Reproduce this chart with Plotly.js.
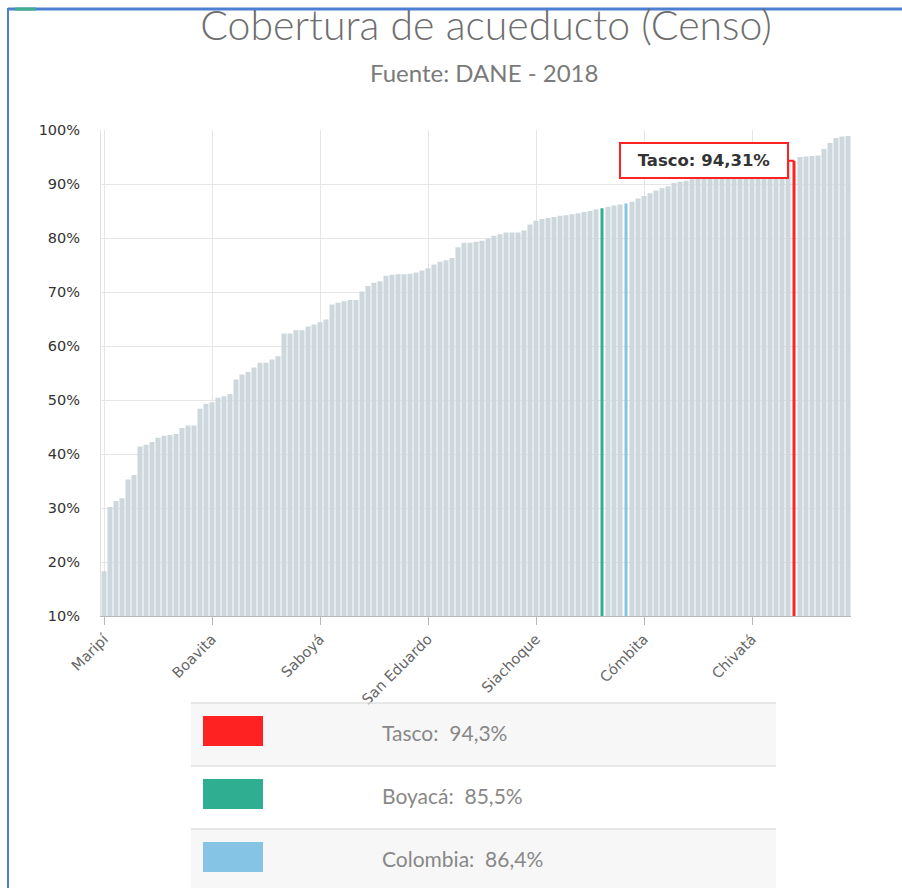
<!DOCTYPE html>
<html>
<head>
<meta charset="utf-8">
<script src="https://cdn.plot.ly/plotly-3.0.1.min.js"></script>
<style>html,body{margin:0;padding:0;background:#fff;}#chart{width:902px;height:888px;}</style>
</head>
<body>
<div id="chart"></div>
<script>
// Cobertura de acueducto por municipio (%), ordered ascending
const coverage = [
  18.3, 30.2, 31.3, 31.8, 35.3, 36.1, 41.4, 41.7, 42.2, 43.0,
  43.4, 43.5, 43.7, 44.8, 45.3, 45.3, 48.4, 49.3, 49.6, 50.4,
  50.7, 51.1, 53.8, 54.7, 55.2, 56.0, 56.9, 56.9, 57.5, 58.1,
  62.3, 62.3, 62.9, 62.9, 63.6, 64.0, 64.4, 64.9, 67.7, 68.0,
  68.3, 68.5, 68.5, 70.1, 71.1, 71.7, 72.0, 73.0, 73.2, 73.3,
  73.3, 73.4, 73.6, 74.0, 74.4, 75.1, 75.6, 75.9, 76.3, 78.3,
  79.1, 79.1, 79.3, 79.5, 79.9, 80.4, 80.7, 81.0, 81.0, 81.0,
  81.4, 82.5, 83.2, 83.5, 83.7, 83.9, 84.1, 84.2, 84.4, 84.6,
  84.8, 85.0, 85.3, 85.5, 85.8, 86.0, 86.2, 86.4, 86.7, 87.3,
  87.8, 88.3, 88.8, 89.2, 89.6, 90.2, 90.4, 90.6, 90.9, 91.0,
  91.3, 91.5, 91.6, 91.9, 92.1, 92.2, 92.5, 92.7, 92.9, 93.1,
  93.4, 93.5, 93.8, 94.0, 94.2, 94.31, 95.0, 95.1, 95.2, 95.3,
  96.5, 97.6, 98.5, 98.8, 98.9
];

// x-axis tick labels (category index -> name)
const tickIndex  = [0, 18, 36, 54, 72, 90, 108];
const tickLabels = ['Maripí', 'Boavita', 'Saboyá', 'San Eduardo', 'Siachoque', 'Cómbita', 'Chivatá'];

// y-axis ticks
const yTicks = [10, 20, 30, 40, 50, 60, 70, 80, 90, 100];
const yTickLabels = yTicks.map(v => v + '%');

// highlighted entries
const highlightNames  = ['Tasco', 'Boyacá', 'Colombia'];
const highlightIndex  = [115, 83, 87];
const highlightColors = ['#ff2222', '#2fae92', '#86c4e6'];

const baseColor = '#cdd7dc';

const xs = coverage.map((_, i) => i);
const colors = coverage.map(() => baseColor);
const widths = coverage.map(() => 0.84);
highlightIndex.forEach((idx, k) => { colors[idx] = highlightColors[k]; widths[idx] = 0.5; });

// pixel -> paper helpers (plot area: x 101..851, y 130..616)
const L = 101, R = 851, T = 130, B = 616;
const px = p => (p - L) / (R - L);
const py = p => (B - p) / (B - T);

const fmt = (v, d) => v.toFixed(d).replace('.', ',');

const shapes = [];
const annotations = [];

// framing lines of the original page container
shapes.push({type:'line', xref:'paper', yref:'paper', x0:px(8), x1:px(902), y0:py(9), y1:py(9), line:{color:'#4a7fd2', width:3}});
shapes.push({type:'line', xref:'paper', yref:'paper', x0:px(15), x1:px(36), y0:py(9), y1:py(9), line:{color:'#3fae8e', width:3}});
shapes.push({type:'line', xref:'paper', yref:'paper', x0:px(8), x1:px(8), y0:py(8), y1:py(888), line:{color:'#4a7fd2', width:2}});

// custom legend table
const rowTops = [703, 766, 829];
const rowH = 63;
rowTops.forEach((t, k) => {
  const bottom = Math.min(t + rowH, 888);
  shapes.push({type:'rect', xref:'paper', yref:'paper', x0:px(191), x1:px(776), y0:py(bottom), y1:py(t),
    fillcolor: (k % 2 === 0) ? '#f7f7f7' : '#ffffff', line:{width:0}, layer:'below'});
  shapes.push({type:'line', xref:'paper', yref:'paper', x0:px(191), x1:px(776), y0:py(t), y1:py(t),
    line:{color:'#e0e0e0', width:1.5}});
  shapes.push({type:'rect', xref:'paper', yref:'paper', x0:px(203), x1:px(263), y0:py(t + 43), y1:py(t + 13),
    fillcolor: highlightColors[k], line:{width:0}});
  const v = coverage[highlightIndex[k]];
  annotations.push({xref:'paper', yref:'paper', x:px(380), y:py(t + 29), xanchor:'left', yanchor:'middle',
    text: highlightNames[k] + ':&nbsp;&nbsp;' + fmt(v, 1) + '%', showarrow:false,
    font:{family:'Lato, sans-serif', size:21, color:'#888888'}});
});

// subtitle
annotations.push({xref:'paper', yref:'paper', x:px(484), y:py(73), xanchor:'center', yanchor:'middle',
  text:'Fuente: DANE - 2018', showarrow:false, font:{family:'Lato, sans-serif', size:24, color:'#7a7a7a'}});

// tooltip callout for Tasco
const ti = highlightIndex[0];
annotations.push({x: ti, y: coverage[ti], xref:'x', yref:'y',
  text:'<b>' + highlightNames[0] + ': ' + fmt(coverage[ti], 2) + '%</b>',
  showarrow:true, arrowhead:0, arrowwidth:2, arrowcolor:'#ff2222', ax:-90, ay:0,
  bgcolor:'#ffffff', bordercolor:'#ff2222', borderwidth:2, borderpad:7, width:152,
  font:{family:'DejaVu Sans, Verdana, sans-serif', size:16.5, color:'#333333'}});

const trace = {
  type:'bar', x: xs, y: coverage, width: widths,
  marker:{color: colors, line:{width:0}},
  hoverinfo:'none', showlegend:false
};

const layout = {
  width:902, height:888,
  margin:{l:L, r:902 - R, t:T, b:888 - B, pad:0},
  paper_bgcolor:'#ffffff', plot_bgcolor:'#ffffff',
  title:{text:'Cobertura de acueducto (Censo)', xref:'container', yref:'container',
    x:486/902, xanchor:'center', y:1 - 26/888, yanchor:'middle',
    font:{family:'Lato, sans-serif', size:41, color:'#6e6e6e', weight:300}},
  xaxis:{range:[-0.5, coverage.length - 0.5], tickmode:'array', tickvals: tickIndex, ticktext: tickLabels,
    tickangle:-45, showgrid:true, gridcolor:'#e6e6e6', gridwidth:1, zeroline:false,
    showline:true, linecolor:'#b8b8b8', linewidth:1, ticks:'outside', ticklen:8, tickcolor:'#b8b8b8',
    tickfont:{family:'DejaVu Sans, Verdana, sans-serif', size:14.5, color:'#666666'}, fixedrange:true},
  yaxis:{range:[10, 100], tickmode:'array', tickvals: yTicks, ticktext: yTickLabels,
    showgrid:true, gridcolor:'#e6e6e6', zeroline:false, showline:true, linecolor:'#e2e2e2',
    ticklabelstandoff:17,
    tickfont:{family:'DejaVu Sans, Verdana, sans-serif', size:14.5, color:'#333333'}, fixedrange:true},
  shapes: shapes,
  annotations: annotations
};

Plotly.newPlot('chart', [trace], layout, {displayModeBar:false, staticPlot:true});
</script>
</body>
</html>
